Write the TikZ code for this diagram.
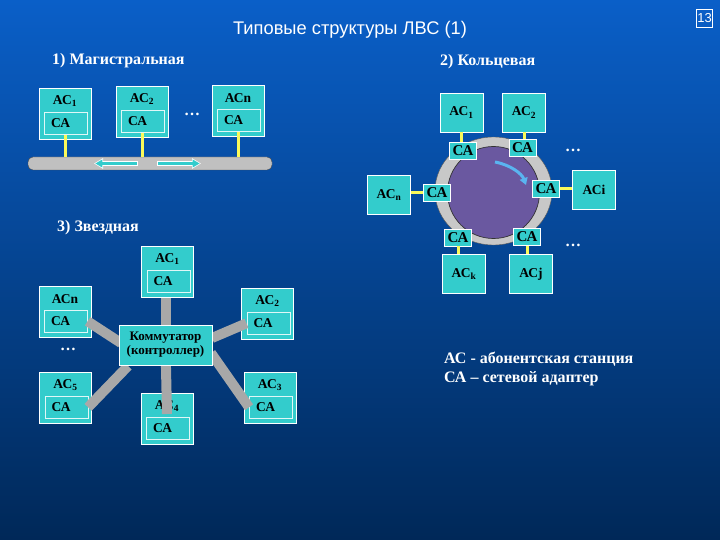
\documentclass[tikz,border=0pt]{standalone}
\usepackage{fontspec}
\setmainfont{Liberation Serif}
\newfontfamily\sansf{Liberation Sans}
\usetikzlibrary{arrows.meta,shapes.geometric,calc}
\definecolor{tealbox}{RGB}{51,204,204}
\definecolor{yel}{RGB}{250,250,90}
\definecolor{busgray}{RGB}{192,192,192}
\definecolor{linkgray}{RGB}{168,168,168}
\definecolor{ringgray}{RGB}{200,200,200}
\definecolor{diskcol}{RGB}{106,88,160}
\definecolor{flow}{RGB}{90,180,240}
\definecolor{bgtop}{RGB}{10,95,200}
\definecolor{bgmid}{RGB}{10,75,160}
\definecolor{bgbot}{RGB}{0,40,88}
\tikzset{
  box/.style={draw=white, fill=tealbox, line width=0.8pt, inner sep=0pt, minimum width=52pt, minimum height=51pt},
  inbox/.style={draw=white!85!tealbox, fill=tealbox, line width=0.6pt, inner sep=0pt, minimum width=43pt, minimum height=22pt},
  lab/.style={font=\bfseries\fontsize{13.5}{15}\selectfont, text=black, inner sep=0pt},
  head/.style={font=\bfseries\fontsize{16}{18}\selectfont, text=white, inner sep=0pt},
  rca/.style={draw=white, fill=tealbox, line width=0.6pt, inner sep=0pt, minimum width=27pt, minimum height=17pt, font=\bfseries\fontsize{15}{16}\selectfont, text=black},
  rbox/.style={box, minimum width=43pt, minimum height=39pt, font=\bfseries\fontsize{13.5}{15}\selectfont, text=black},
  yl/.style={draw=yel, line width=3pt},
  link/.style={draw=linkgray, line width=10pt},
}
\newcommand\stn[4]{%
  \node[box, anchor=north] (#1) at (#2,#3) {};
  \node[inbox, anchor=north west] (#1c) at ([xshift=-21pt,yshift=-24pt]#1.north) {};
  \node[lab] (#1t) at ([yshift=-13pt]#1.north) {#4};
  \node[lab, anchor=west] (#1a) at ([xshift=7pt]#1c.west) {СА};
}
\begin{document}
\begin{tikzpicture}[x=1pt,y=-1pt]
\useasboundingbox (0,0) rectangle (720,540);
\shade[top color=bgtop, middle color=bgmid, bottom color=bgbot] (0,0) rectangle (720,540);

% title
\node[font=\sansf\fontsize{18.3}{21}\selectfont, text=white, inner sep=0pt] (title) at (350,30) {Типовые структуры ЛВС (1)};
\node[draw=white, line width=0.6pt, font=\sansf\fontsize{13}{14}\selectfont, text=white, inner sep=0.8pt, minimum height=18pt, minimum width=16pt] (pg) at (704.5,18) {13};

% headers
\node[head, anchor=west] (h1) at (52,61) {1) Магистральная};
\node[head, anchor=west] (h2) at (440,62) {2) Кольцевая};
\node[head, anchor=west] (h3) at (57,228) {3) Звездная};

% ---- bus ----
\node[draw=gray!60!black, fill=busgray, rounded corners=5pt, minimum width=244pt, minimum height=13pt, inner sep=0pt] (bus) at (150,163.5) {};
\stn{b1}{65}{88}{АС\textsubscript{1}}
\stn{b2}{142}{86}{АС\textsubscript{2}}
\stn{bn}{238}{85}{АСn}
\node[head] (bd) at (192,114) {…};
\draw[yl] (b1c.south) -- (b1c.south |- bus.north);
\draw[yl] (b2c.south) -- (b2c.south |- bus.north);
\draw[yl] (bnc.south) -- (bnc.south |- bus.north);
\coordinate (la1) at (138,163.5);
\coordinate (la2) at (94,163.5);
\coordinate (ra1) at (157,163.5);
\coordinate (ra2) at (201,163.5);
\draw[white, line width=4.5pt, -{Triangle[length=9pt,width=10pt]}] (la1) -- (la2);
\draw[tealbox, line width=2.6pt, -{Triangle[length=7pt,width=7.5pt]}] ([xshift=-0.8pt]la1) -- ([xshift=1.3pt]la2);
\draw[white, line width=4.5pt, -{Triangle[length=9pt,width=10pt]}] (ra1) -- (ra2);
\draw[tealbox, line width=2.6pt, -{Triangle[length=7pt,width=7.5pt]}] ([xshift=0.8pt]ra1) -- ([xshift=-1.3pt]ra2);

% ---- ring ----
\node[ellipse, fill=ringgray, draw=gray!70!black, line width=0.4pt, minimum width=117pt, minimum height=108pt, inner sep=0pt] (ring) at (493.5,191) {};
\node[circle, fill=diskcol, draw=black!80, line width=0.7pt, minimum size=92pt, inner sep=0pt] (disk) at (493.5,192.5) {};
\coordinate (fa) at (495,162);
\coordinate (fb) at (526,185);
\draw[flow, line width=3pt, -{Triangle[length=7pt,width=8pt]}] (fa) .. controls (511,165) and (522,174) .. (fb);
\node[rca] (c1) at (463,150.5) {СА};
\node[rca] (c2) at (522.5,148) {СА};
\node[rca] (cn) at (437,192.5) {СА};
\node[rca] (ci) at (546,189) {СА};
\node[rca] (ck) at (458,237.5) {СА};
\node[rca] (cj) at (527,237) {СА};
\node[rbox] (r1) at (461.5,112.5) {АС\textsubscript{1}};
\node[rbox] (r2) at (524,112.5) {АС\textsubscript{2}};
\node[rbox] (rn) at (389,195) {АС\textsubscript{n}};
\node[rbox] (ri) at (594,189.5) {АСi};
\node[rbox] (rk) at (464,274) {АС\textsubscript{k}};
\node[rbox] (rj) at (531,274) {АСj};
\draw[yl] (c1.north -| r1.south) -- (r1.south);
\draw[yl] (c2.north -| r2.south) -- (r2.south);
\draw[yl] (cn.west) -- (cn.west -| rn.east);
\draw[yl] (ci.east) -- (ci.east -| ri.west);
\draw[yl] (ck.south) -- (ck.south |- rk.north);
\draw[yl] (cj.south) -- (cj.south |- rj.north);
\node[head] (rd1) at (573,150) {…};
\node[head] (rd2) at (573,245) {…};

% ---- star ----
\stn{s1}{167.5}{246}{АС\textsubscript{1}}
\stn{sn}{65}{286}{АСn}
\stn{s2}{267.5}{288}{АС\textsubscript{2}}
\stn{s5}{65.5}{372}{АС\textsubscript{5}}
\stn{s4}{167}{393}{АС\textsubscript{4}}
\stn{s3}{270}{372}{АС\textsubscript{3}}
\node[head] (sd) at (68,349) {…};
\coordinate (swc) at (165.5,345);
\coordinate (s4e) at (167,414);
\coordinate (snl) at (121,343);
\coordinate (s2l) at (212,338);
\coordinate (s3l) at (211,353);
\coordinate (s5l) at (128,366);
\draw[link] (swc) -- (swc |- s1.south);
\draw[link] (snl) -- (snc.east);
\draw[link] (s2l) -- (s2c.west);
\draw[link] (s3l) -- (s3c.west);
\draw[link] (swc) -- (s4e);
\draw[link] (s5l) -- (s5c.east);
\node[box, minimum width=93pt, minimum height=40pt, align=center, font=\bfseries\fontsize{13}{14}\selectfont, text=black] (sw) at (swc) {Коммутатор\\(контроллер)};

% legend
\node[head, anchor=north west, align=left, font=\bfseries\fontsize{16}{19}\selectfont] (leg) at (444,352) {АС - абонентская станция\\СА – сетевой адаптер};
\end{tikzpicture}
\end{document}
